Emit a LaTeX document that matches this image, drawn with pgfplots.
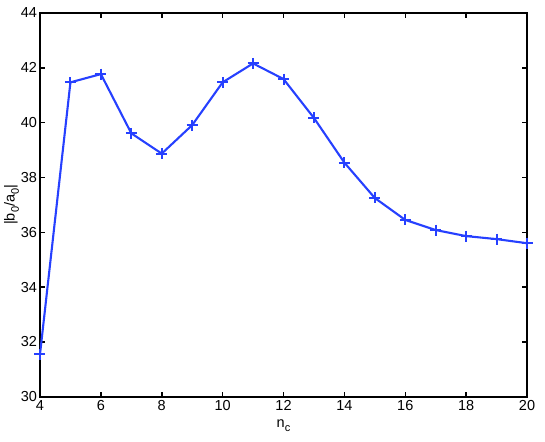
\documentclass[border=0pt]{standalone}
\usepackage{fontspec}
\setmainfont{Liberation Sans}
\usepackage{pgfplots}
\pgfplotsset{compat=1.18}
\definecolor{lineblue}{RGB}{38,64,255}
\newcommand{\sub}[1]{\raisebox{-0.55ex}{\fontsize{11}{12}\selectfont #1}}
\begin{document}
\fontsize{14.5}{17}\selectfont
\begin{tikzpicture}[x=1pt,y=1pt]
\useasboundingbox (-40,-44.3) rectangle (505,396.7);
\begin{axis}[
  at={(0,0)}, anchor=south west,
  scale only axis, width=487pt, height=383.7pt,
  xmin=4, xmax=20, ymin=30, ymax=44,
  xtick={4,6,...,20}, ytick={30,32,...,44},
  tick align=inside, major tick length=5pt,
  axis line style={line width=1.8pt}, every tick/.style={line width=1.5pt, black},
  /pgf/number format/assume math mode=true,
  tick label style={font=\fontsize{14.5}{17}\selectfont},
  label style={font=\fontsize{14.5}{17}\selectfont},
  xlabel={n\sub{c}}, ylabel={|b\sub{0}/a\sub{0}|},
  xlabel style={yshift=1pt}, ylabel style={yshift=-8pt},
  xticklabel style={yshift=1pt}, yticklabel style={xshift=2pt},
]
\addplot[color=lineblue, line width=2.1pt, mark=+, mark size=5.5pt, mark options={line width=2pt}] coordinates {
(4,31.55) (5,41.47) (6,41.77) (7,39.61) (8,38.87) (9,39.91) (10,41.47) (11,42.16) (12,41.59) (13,40.17) (14,38.54) (15,37.25) (16,36.45) (17,36.08) (18,35.86) (19,35.75) (20,35.6)
};
\end{axis}
\end{tikzpicture}
\end{document}
